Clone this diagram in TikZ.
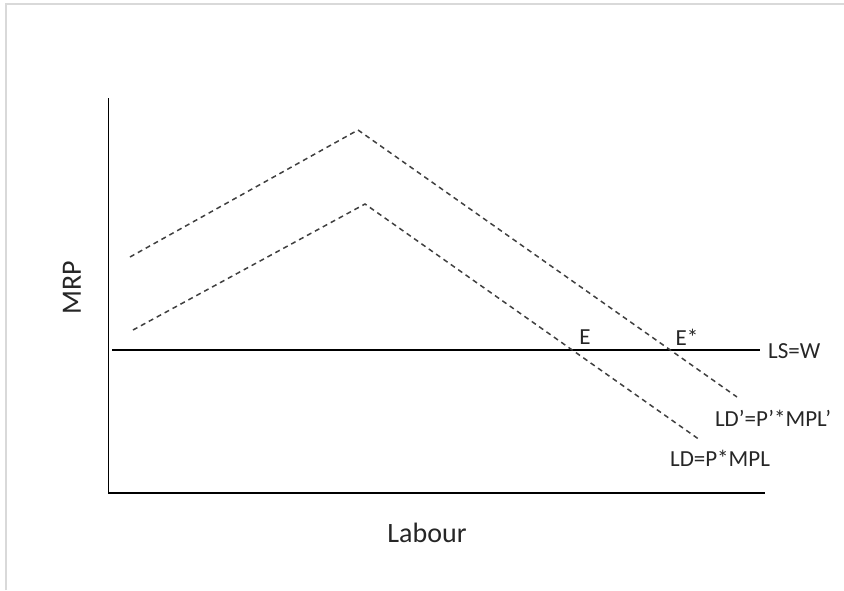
\documentclass[tikz,border=0pt]{standalone}
\usepackage{fontspec}
\setmainfont{Carlito}
\begin{document}
\begin{tikzpicture}[x=1pt, y=-1pt, font=\fontsize{23}{25}\selectfont, line join=miter,
	axis/.style={line width=1.5pt, black},
	curve/.style={line width=1.5pt, dash pattern=on 5pt off 4pt, black!75},
	lbl/.style={inner sep=0pt, text=black!85}]
	\useasboundingbox (0, 0) rectangle (844, 590);
	
	% Frame
	\draw[black!15, line width=1.2pt] (6, 590) -- (6, 4) -- (844, 4);
	
	% Axes
	\coordinate (origin) at (108.5, 493);
	\coordinate (ytop) at (108.5, 98);
	\coordinate (xend) at (765, 493);
	\draw[axis] (ytop) -- (origin) -- (xend);
	\node[lbl, rotate=90, font=\fontsize{28}{30}\selectfont] (mrp) at (72, 288) {MRP};
	\node[lbl, font=\fontsize{28}{30}\selectfont] (labour) at (427, 533) {Labour};
	
	% Labour supply
	\coordinate (lsA) at (112, 350);
	\coordinate (lsB) at (760, 350);
	\draw[axis, line width=1.3pt] (lsA) -- (lsB);
	\node[lbl, anchor=west] (lsw) at (768, 351) {LS=W};
	
	% Demand after shift
	\coordinate (ldpA) at (130, 257);
	\coordinate (ldpB) at (358, 130);
	\coordinate (ldpC) at (737, 397);
	\draw[curve] (ldpA) -- (ldpB) -- (ldpC);
	\node[lbl] (ldp) at (773, 418) {LD’=P’*MPL’};
	
	% Demand
	\coordinate (ldA) at (133, 330);
	\coordinate (ldB) at (365, 204);
	\coordinate (ldC) at (700, 440);
	\draw[curve] (ldA) -- (ldB) -- (ldC);
	\node[lbl] (ld) at (720, 458) {LD=P*MPL};
	
	% Equilibria
	\node[lbl] (e) at (585, 337) {E};
	\node[lbl] (estar) at (687, 337) {E*};
	
\end{tikzpicture}
\end{document}
